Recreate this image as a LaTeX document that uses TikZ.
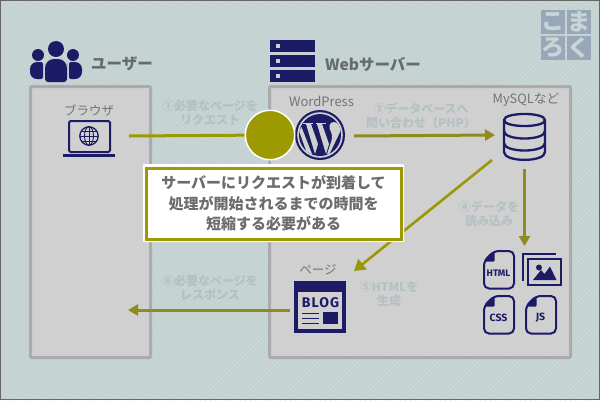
\documentclass[tikz,border=0pt]{standalone}
\usepackage{fontspec}
\usetikzlibrary{arrows.meta}
\newfontfamily\jp{Noto Sans CJK JP}
\newfontfamily\din{Fira Sans}
\definecolor{bgc}{HTML}{C3D1D1}
\definecolor{stripec}{HTML}{CAD7D7}
\definecolor{boxc}{HTML}{D0D0D0}
\definecolor{boxl}{HTML}{ABABAB}
\definecolor{navyc}{HTML}{1C1C66}
\definecolor{olivec}{HTML}{9C9A00}
\definecolor{arrowc}{HTML}{8E8C1E}
\definecolor{stepc}{HTML}{B4C1C3}
\definecolor{headc}{HTML}{666C6C}
\definecolor{calloutc}{HTML}{6C6C6C}
\definecolor{namec}{HTML}{6E7679}
\definecolor{logoc}{HTML}{98A8B8}
\definecolor{logot}{HTML}{C8D6D6}
\tikzset{
  head/.style={font=\jp\bfseries\fontsize{15.5}{15.5}\selectfont,text=headc,inner sep=0},
  iconname/.style={font=\jp\fontsize{13}{13}\selectfont,text=namec,inner sep=0},
  steplabel/.style={font=\jp\bfseries\fontsize{12}{14}\selectfont,text=stepc,align=center,inner sep=0},
  zone/.style={draw=boxl,line width=3,fill=boxc,rounded corners=1},
  iconbox/.style={inner sep=0,outer sep=0},
  flow/.style={draw=arrowc,line width=3,-{Triangle[length=10,width=11]}},
  plainflow/.style={draw=olivec,line width=3},
  logotile/.style={fill=logoc,inner sep=0,minimum width=24,minimum height=24,text=logot,font=\jp\bfseries\fontsize{23}{23}\selectfont}
}
\begin{document}
\begin{tikzpicture}[x=1pt,y=-1pt]
\useasboundingbox (0,0) rectangle (600,400);
% background
\fill[bgc] (0,0) rectangle (600,400);
\begin{scope}
\clip (0,0) rectangle (600,400);
\foreach \i in {0,5,...,1000}{\draw[stripec,line width=1.4] (\i,0)--(\i-400,400);}
\end{scope}
\draw[black!60,line width=1] (0.5,0.5) rectangle (599.5,399.5);
% zones
\draw[zone] (30.5,86.5) rectangle (150.5,357.5);
\draw[zone] (269.5,86.5) rectangle (570.5,357.5);
% headings
\node[head,anchor=west] (userhead) at (91,64) {ユーザー};
\node[head,anchor=west] (serverhead) at (325,64) {Webサーバー};
% user icon
\fill[navyc] (56,49) circle[radius=8] (38,55) circle[radius=6] (73,55) circle[radius=6];
\fill[navyc,rounded corners=9] (45,70)--(45,59)--(67,59)--(67,70)[rounded corners=3]--(67,82)--(45,82)--cycle;
\fill[navyc,rounded corners=2] (43,62)--(43,79)[rounded corners=7]--(30,79)--(30,62)[rounded corners=2]--cycle;
\fill[navyc,rounded corners=2] (69,62)--(69,79)[rounded corners=7]--(82,79)--(82,62)[rounded corners=2]--cycle;
% server icon
\foreach \y in {40,55,70}{
  \fill[navyc] (270,\y) rectangle (315,\y+12);
  \fill[boxc] (276,\y+4) rectangle (280,\y+8);
}
% logo
\node[logotile] (lk) at (553,22) {こ};
\node[logotile] (lm) at (578.5,22) {ま};
\node[logotile] (lr) at (553,48) {ろ};
\node[logotile] (lq) at (578.5,48) {く};
% named icon places
\node[iconbox,minimum width=80,minimum height=40] (browser) at (89,136) {};
\node[iconbox,minimum width=68,minimum height=50] (wp) at (320,136) {};
\node[iconbox,minimum width=59,minimum height=68] (db) at (524.5,135) {};
\node[iconbox,minimum width=80,minimum height=88] (files) at (524.5,290) {};
\node[iconbox,minimum width=60,minimum height=52] (blog) at (320,310) {};
\coordinate (userend) at (128,310);
\coordinate (dbout) at (492,160);
\coordinate (blogin) at (354,271);
% icon names
\node[iconname,font=\jp\fontsize{12.5}{12.5}\selectfont] (bname) at (89,111) {ブラウザ};
\node[iconname] (wname) at (321.5,101) {WordPress};
\node[iconname,font=\jp\fontsize{12.8}{12.8}\selectfont] (mname) at (526,100) {MySQLなど};
\node[iconname,font=\jp\fontsize{12.5}{12.5}\selectfont] (pname) at (318,270) {ページ};
% laptop
\draw[navyc,line width=2,rounded corners=1.5,fill=boxc] (69,121) rectangle (110,152);
\fill[navyc] (63,154) rectangle (115,157);
\draw[navyc,line width=1.3] (89,136) circle[radius=9.2];
\draw[navyc,line width=0.9] (89,136) ellipse[x radius=4.5,y radius=9.2];
\draw[navyc,line width=0.9] (89,126.8)--(89,145.2) (80,136)--(98,136) (81.2,131)--(96.8,131) (81.2,141)--(96.8,141);
% wordpress logo
\fill[navyc] (320,135) circle[radius=25];
\fill[boxc] (320,135) circle[radius=22.8];
\fill[navyc] (320,135) circle[radius=21];
\begin{scope}[shift={(320,135)}]
\clip (0,0) circle[radius=21];
\fill[boxc] (-17,-12.5) rectangle (-7,-10.8);
\fill[boxc] (-4,-12.5) rectangle (6,-10.8);
\fill[boxc] (-14,-11)--(-9,-11)--(-2,9)--(-5,19)--cycle;
\fill[boxc] (-3,-11)--(2,-11)--(9,9)--(6,19)--cycle;
\fill[boxc] (-21,-4)--(-18.5,-8)--(-8,19)--(-12,21)--cycle;
\fill[boxc] (14,-13) .. controls (9,-13) and (8,-8) .. (11,-3) .. controls (13,1) and (12,5) .. (10,10) -- (7,19) -- (9,20) -- (21,-5) -- (18,-11) .. controls (17,-12) and (15.5,-13) .. (14,-13) -- cycle;
\end{scope}
% database
\draw[navyc,line width=2.3,fill=boxc] (504,120) .. controls (504,112) and (545,112) .. (545,120) -- (545,152) .. controls (545,162.5) and (504,162.5) .. (504,152) -- cycle;
\draw[navyc,line width=2.3] (504,120) .. controls (504,128) and (545,128) .. (545,120);
\draw[navyc,line width=2.3] (504,131) .. controls (504,141) and (545,141) .. (545,131);
\draw[navyc,line width=2.3] (504,143) .. controls (504,153) and (545,153) .. (545,143);
% blog page
\fill[navyc] (294,281) rectangle (346,333);
\fill[boxc] (298,292) rectangle (342,329);
\node[inner sep=0,text=navyc,font=\din\bfseries\fontsize{14}{14}\selectfont\addfontfeature{LetterSpace=8}] (blogtxt) at (320.5,303) {BLOG};
\fill[navyc] (323,312) rectangle (338,324);
\foreach \y in {312.5,317.5,322.5}{\fill[navyc] (302,\y) rectangle (319,\y+1.4);}
% files
\draw[navyc,line width=2,rounded corners=5,fill=boxc] (494,251)--(514,251)--(514,288.5)--(484,288.5)--(484,261)--cycle;
\fill[navyc,rounded corners=1] (494.5,251)--(494.5,261.5)--(484,261.5)--cycle;
\node[inner sep=0,text=navyc,font=\din\bfseries\fontsize{9.5}{9.5}\selectfont] (fhtml) at (498.5,273) {HTML};
\draw[navyc,line width=2,rounded corners=5,fill=boxc] (494,296)--(514,296)--(514,333.5)--(484,333.5)--(484,306)--cycle;
\fill[navyc,rounded corners=1] (494.5,296)--(494.5,306.5)--(484,306.5)--cycle;
\node[inner sep=0,text=navyc,font=\din\bfseries\fontsize{10.5}{10.5}\selectfont] (fcss) at (498.5,318) {CSS};
\draw[navyc,line width=2,rounded corners=5,fill=boxc] (536,296)--(556,296)--(556,333.5)--(526,333.5)--(526,306)--cycle;
\fill[navyc,rounded corners=1] (536.5,296)--(536.5,306.5)--(526,306.5)--cycle;
\node[inner sep=0,text=navyc,font=\din\bfseries\fontsize{10.5}{10.5}\selectfont] (fjs) at (540.5,318) {JS};
\draw[navyc,line width=2.4] (523,281)--(523,254.2)--(556,254.2);
\draw[navyc,line width=2.4] (528.2,259.2) rectangle (561,285);
\fill[navyc] (539,267.5) circle[radius=3];
\fill[navyc] (533,280)--(541,270)--(544.5,274)--(550,266.5)--(556.5,280)--cycle;
% connectors
\draw[plainflow] (browser.east)--(270,135);
\draw[flow] (wp.east)--(db.west);
\draw[flow] (db.south)--(files.north);
\draw[draw=olivec!85!arrowc,line width=2.6,-{Triangle[length=11,width=13]}] (dbout)--(blogin);
\draw[flow] (blog.west)--(userend);
% hub
\node[circle,draw=white,line width=1.5,fill=olivec,minimum size=49.5,inner sep=0] (hub) at (270,135) {};
% step labels
\node[steplabel] (s1) at (210,113) {①必要なページを\\リクエスト};
\node[steplabel] (s3) at (421,116) {③データベースへ\\問い合わせ（PHP）};
\node[steplabel] (s4) at (489,214) {④データを\\読み込み};
\node[steplabel] (s5) at (389,294) {⑤HTMLを\\生成};
\node[steplabel] (s6) at (210,288) {⑥必要なページを\\レスポンス};
% callout
\fill[white,rounded corners=1] (143,164) rectangle (404,242);
\node[draw=olivec,line width=3,fill=white,minimum width=255,minimum height=71,inner sep=0,align=center,text=calloutc,font=\jp\bfseries\fontsize{15}{20.5}\selectfont] (callout) at (273.5,203.5) {サーバーにリクエストが到着して\\処理が開始されるまでの時間を\\短縮する必要がある};
\end{tikzpicture}
\end{document}
